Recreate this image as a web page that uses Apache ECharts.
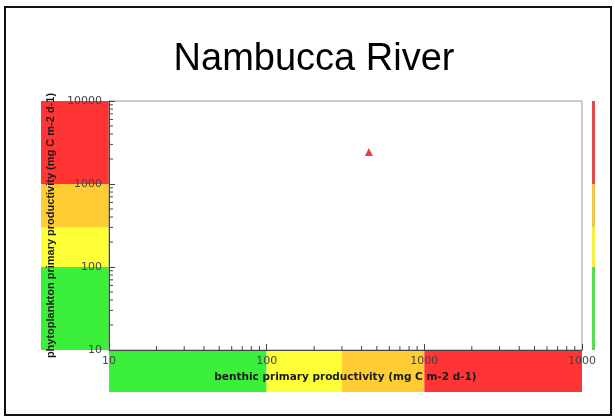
<!DOCTYPE html>
<html>
<head>
<meta charset="utf-8">
<script src="https://cdn.jsdelivr.net/npm/echarts@6/dist/echarts.min.js"></script>
<style>
  html, body { margin: 0; padding: 0; background: #fff; }
  #chart { width: 615px; height: 419px; }
</style>
</head>
<body>
<div id="chart"></div>
<script>
// Site observation
const siteName = 'Nambucca River';
const benthicValues = [445];
const phytoValues = [2430];

// Axis ticks and labels (log scale, decades)
const majorTicks = [10, 100, 1000, 10000];
const xTickLabels = ['10', '100', '1000', '1000'];
const yTickLabels = ['10', '100', '1000', '10000'];
const minorMultipliers = [2, 3, 4, 5, 6, 7, 8, 9];

// Rating bands along both axes
const bandEdges = [10, 100, 300, 1000, 10000];
const bandColors = ['#3bef3b', '#ffff38', '#ffcc33', '#ff3535'];
const sideBarColors = ['#55dd55', '#f6f044', '#f0c848', '#e04848'];

const xTitle = 'benthic primary productivity (mg C m-2 d-1)';
const yTitle = 'phytoplankton primary productivity (mg C m-2 d-1)';

const bandRanges = bandEdges.slice(0, -1).map((lo, i) => [lo, bandEdges[i + 1], i]);
const minorTicks = [];
majorTicks.slice(0, -1).forEach(d => minorMultipliers.forEach(m => minorTicks.push(d * m)));

const labelFont = { fontFamily: 'DejaVu Sans', fontSize: 11, color: '#444' };

const chart = echarts.init(document.getElementById('chart'), null, { renderer: 'canvas' });

function vBand(colors) {
  return function (params, api) {
    const lo = api.value(1), hi = api.value(2), idx = api.value(3);
    const p0 = api.coord([0, lo]);
    const p1 = api.coord([1, hi]);
    return {
      type: 'rect',
      shape: { x: p0[0], y: p1[1], width: p1[0] - p0[0], height: p0[1] - p1[1] },
      style: { fill: colors[idx] }
    };
  };
}

chart.setOption({
  animation: false,
  backgroundColor: '#fff',
  graphic: [
    { type: 'rect', shape: { x: 5, y: 7, width: 606, height: 408 }, style: { fill: 'none', stroke: '#111', lineWidth: 2 }, z: 100 },
    { type: 'text', x: 314, y: 60, style: { text: siteName, font: '38px "Liberation Sans", Arial, sans-serif', fill: '#000', textAlign: 'center', textVerticalAlign: 'middle' } }
  ],
  grid: [
    { left: 109, right: 33, top: 101, bottom: 69, show: true, borderColor: '#999', borderWidth: 1, z: 2 },
    { left: 41, width: 68, top: 101, bottom: 69, z: 0 },
    { left: 109, right: 33, top: 351, height: 41, z: 0 },
    { left: 592, width: 3, top: 101, bottom: 69, z: 0 }
  ],
  xAxis: [
    {
      gridIndex: 0, type: 'log', logBase: 10, min: 10, max: 10000, z: 5,
      axisLine: { show: true, lineStyle: { color: '#444', width: 1 } },
      axisTick: { show: true, inside: true, length: 6, lineStyle: { color: '#444' } },
      axisLabel: { ...labelFont, margin: 6, formatter: v => xTickLabels[majorTicks.indexOf(Math.round(v))] || '' },
      splitLine: { show: false },
      name: xTitle, nameLocation: 'middle', nameGap: 22,
      nameTextStyle: { fontFamily: 'DejaVu Sans', fontWeight: 'bold', fontSize: 10.5, color: '#1a1a1a' }
    },
    { gridIndex: 1, type: 'value', min: 0, max: 1, show: false },
    { gridIndex: 2, type: 'log', min: 10, max: 10000, show: false },
    { gridIndex: 3, type: 'value', min: 0, max: 1, show: false }
  ],
  yAxis: [
    {
      gridIndex: 0, type: 'log', logBase: 10, min: 10, max: 10000, z: 5,
      axisLine: { show: true, lineStyle: { color: '#444', width: 1 } },
      axisTick: { show: true, inside: true, length: 6, lineStyle: { color: '#444' } },
      axisLabel: { ...labelFont, margin: 7, padding: [3, 0, 0, 0], formatter: v => yTickLabels[majorTicks.indexOf(Math.round(v))] || '' },
      splitLine: { show: false },
      name: yTitle, nameLocation: 'middle', nameGap: 47, nameRotate: 90,
      nameTextStyle: { fontFamily: 'Liberation Sans', fontWeight: 'bold', fontSize: 11, color: '#1a1a1a' }
    },
    { gridIndex: 1, type: 'log', min: 10, max: 10000, show: false },
    { gridIndex: 2, type: 'value', min: 0, max: 1, show: false },
    { gridIndex: 3, type: 'log', min: 10, max: 10000, show: false }
  ],
  series: [
    // left rating band (phytoplankton)
    {
      type: 'custom', xAxisIndex: 1, yAxisIndex: 1, z: 0, silent: true,
      encode: { x: 0, y: [1, 2] },
      data: bandRanges.map(r => [0.5, r[0], r[1], r[2]]),
      renderItem: vBand(bandColors)
    },
    // bottom rating band (benthic)
    {
      type: 'custom', xAxisIndex: 2, yAxisIndex: 2, z: 0, silent: true,
      encode: { x: [0, 1], y: 2 },
      data: bandRanges.map(r => [r[0], r[1], 0.5, r[2]]),
      renderItem: function (params, api) {
        const p0 = api.coord([api.value(0), 0]);
        const p1 = api.coord([api.value(1), 1]);
        return {
          type: 'rect',
          shape: { x: p0[0], y: p1[1], width: p1[0] - p0[0], height: p0[1] - p1[1] },
          style: { fill: bandColors[api.value(3)] }
        };
      }
    },
    // thin side bar
    {
      type: 'custom', xAxisIndex: 3, yAxisIndex: 3, z: 0, silent: true,
      encode: { x: 0, y: [1, 2] },
      data: bandRanges.map(r => [0.5, r[0], r[1], r[2]]),
      renderItem: vBand(sideBarColors)
    },
    // minor ticks on the x axis (log decades)
    {
      type: 'custom', xAxisIndex: 0, yAxisIndex: 0, z: 6, silent: true, clip: false,
      encode: { x: 0 },
      data: minorTicks.map(v => [v, 10]),
      renderItem: function (params, api) {
        const p = api.coord([api.value(0), 10]);
        return { type: 'line', shape: { x1: p[0], y1: p[1], x2: p[0], y2: p[1] - 4 }, style: { stroke: '#444', lineWidth: 1 } };
      }
    },
    // minor ticks on the y axis (log decades)
    {
      type: 'custom', xAxisIndex: 0, yAxisIndex: 0, z: 6, silent: true, clip: false,
      encode: { y: 1 },
      data: minorTicks.map(v => [10, v]),
      renderItem: function (params, api) {
        const p = api.coord([10, api.value(1)]);
        return { type: 'line', shape: { x1: p[0], y1: p[1], x2: p[0] + 4, y2: p[1] }, style: { stroke: '#444', lineWidth: 1 } };
      }
    },
    // site observation
    {
      type: 'scatter', xAxisIndex: 0, yAxisIndex: 0, z: 10,
      symbol: 'triangle', symbolSize: 8,
      itemStyle: { color: '#d4101e' },
      data: benthicValues.map((x, i) => [x, phytoValues[i]])
    }
  ]
});
</script>
</body>
</html>
